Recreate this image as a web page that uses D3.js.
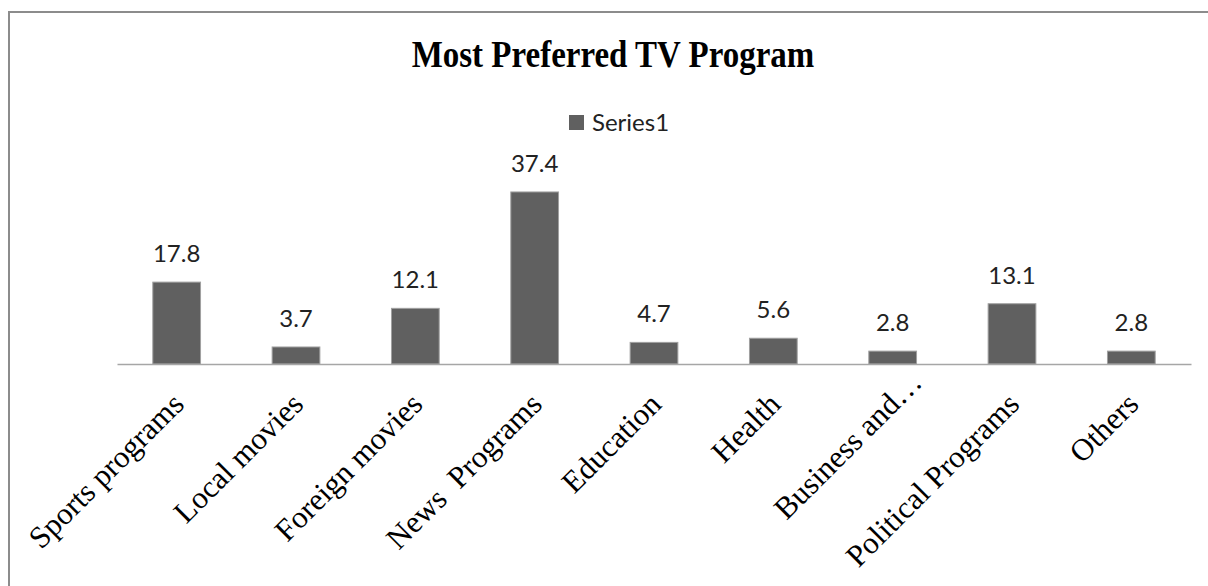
<!DOCTYPE html>
<html lang="en">
<head>
  <meta charset="UTF-8">
  <title>Most Preferred TV Program</title>
  <script src="https://d3js.org/d3.v7.min.js"></script>
<style>
  body, html {
    margin: 0;
    padding: 0;
    background: #ffffff;
    overflow: hidden;
  }
  svg { display: block; }
  .title {
    font-family: 'Liberation Serif', 'Times New Roman', serif;
    font-weight: bold;
    font-size: 33px;
    fill: #000;
  }
  .value-label, .legend text {
    font-family: Lato, 'Open Sans', sans-serif;
    font-size: 24px;
    fill: #222;
  }
  .x-axis .tick text {
    font-family: 'Liberation Serif', 'Times New Roman', serif;
    font-size: 31px;
    fill: #000;
    white-space: pre;
  }
  .bar {
    fill: #606060;
    stroke: #a0a0a0;
    stroke-width: 1;
  }
</style>
</head>
<body>
  <svg width="1208" height="586"></svg>

  <script>
    // chart data
    const categories = ["Sports programs", "Local movies", "Foreign movies", "News  Programs",
                        "Education", "Health", "Business and…", "Political Programs", "Others"];
    const values = [17.8, 3.7, 12.1, 37.4, 4.7, 5.6, 2.8, 13.1, 2.8];
    const seriesName = "Series1";
    const chartTitle = "Most Preferred TV Program";

    const data = categories.map((c, i) => ({ cat: c, val: values[i] }));

    const W = 1208, H = 586;
    const plot = { left: 117, right: 1191, top: 180, bottom: 364 };

    const svg = d3.select("svg");

    // outer frame (only top and left edges visible in the window)
    svg.append("rect")
       .attr("x", 9).attr("y", 12)
       .attr("width", W + 20).attr("height", H + 20)
       .attr("fill", "#fff")
       .attr("stroke", "#8c8c8c")
       .attr("stroke-width", 2);

    svg.append("text")
       .attr("class", "title")
       .attr("text-anchor", "middle")
       .attr("transform", "translate(613,67) scale(1,1.12)")
       .text(chartTitle);

    // legend
    const legend = svg.append("g").attr("class", "legend")
                      .attr("transform", "translate(569,115)");
    legend.append("rect").attr("width", 15).attr("height", 15).attr("fill", "#606060");
    legend.append("text").attr("x", 23).attr("y", 16).text(seriesName);

    const x = d3.scaleBand()
                .domain(categories)
                .range([plot.left, plot.right])
                .paddingInner(0.6)
                .paddingOuter(0.3);

    const y = d3.scaleLinear()
                .domain([0, 40])
                .range([plot.bottom, plot.top]);

    svg.selectAll(".bar")
       .data(data)
       .enter().append("rect")
         .attr("class", "bar")
         .attr("x", d => x(d.cat))
         .attr("y", d => y(d.val))
         .attr("width", x.bandwidth())
         .attr("height", d => y(0) - y(d.val));

    svg.selectAll(".value-label")
       .data(data)
       .enter().append("text")
         .attr("class", "value-label")
         .attr("x", d => x(d.cat) + x.bandwidth() / 2)
         .attr("y", d => y(d.val) - 20)
         .attr("text-anchor", "middle")
         .text(d => d.val.toFixed(1));

    // category axis
    const xAxis = svg.append("g")
                     .attr("class", "x-axis")
                     .attr("transform", `translate(0,${plot.bottom})`)
                     .call(d3.axisBottom(x).tickSize(0).tickSizeOuter(0));

    xAxis.select(".domain")
         .attr("stroke", "#a6a6a6")
         .attr("stroke-width", 1.5);

    xAxis.selectAll(".tick text")
         .attr("y", 0)
         .attr("dy", 0)
         .attr("text-anchor", "end")
         .attr("transform", "translate(9,42) rotate(-45)")
         .each(function(d) {
           // truncated label: keep the ellipsis outside the anchored text
           if (d.endsWith("…")) {
             const t = d3.select(this);
             t.text(d.slice(0, -1));
             t.append("tspan").attr("x", 0).attr("y", 0)
              .attr("text-anchor", "start").text("…");
           }
         });
  </script>
</body>
</html>
